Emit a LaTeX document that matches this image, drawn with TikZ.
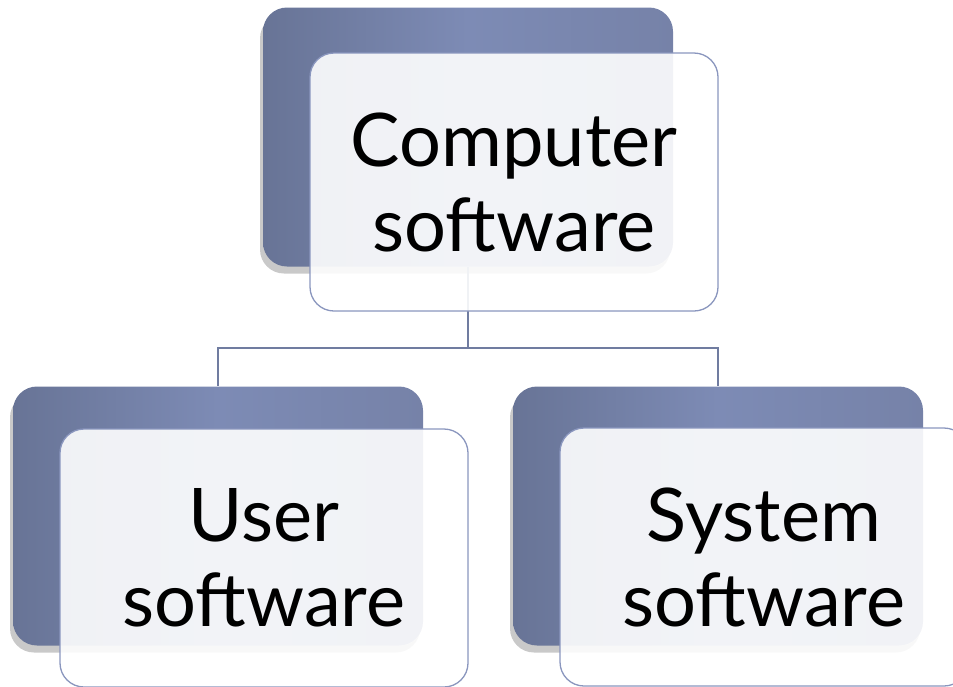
\documentclass[tikz,border=0pt]{standalone}
\usepackage{fontspec}
\setmainfont{Lato}
\usepackage{tikz}
\usetikzlibrary{shadows}
\definecolor{backdark}{RGB}{104,116,150}
\definecolor{backlight}{RGB}{125,139,181}
\definecolor{backright}{RGB}{118,130,168}
\definecolor{edgeblue}{RGB}{138,150,190}
\definecolor{linkblue}{RGB}{112,124,160}

\begin{document}
\begin{tikzpicture}[x=1pt,y=-1pt,
backbox/.style={rounded corners=24pt, inner sep=0pt, minimum width=410pt, minimum height=259pt,
  left color=backdark, right color=backright, middle color=backlight,
  drop shadow={shadow xshift=-3pt, shadow yshift=-7pt, opacity=0.3, fill=black!70}},
frontbox/.style={draw=edgeblue, line width=1.3pt, rounded corners=24pt, inner sep=0pt,
  minimum width=408pt, minimum height=258pt, fill=white, fill opacity=0.9, text opacity=1,
  align=center, font=\fontsize{74}{85}\selectfont},
link/.style={draw=linkblue, line width=1.3pt}]
\useasboundingbox (0,0) rectangle (953,686);
% back panels first, so the links and the front panels lie over them
\node [backbox] (computer back) at (468,137) {};
\node [backbox] (user back) at (218,516) {};
\node [backbox] (system back) at (718,516) {};

\draw [link] (computer back.south) -- (468,348) coordinate (split);
\draw [link] (split) -| (user back.north);
\draw [link] (split) -| (system back.north);

% the text panels
\foreach \name/\x/\y/\txt in {computer/514/182/{Computer\\software},
  user/264/558/{User\\software}, system/764/557/{System\\software}}
{
\node [frontbox] (\name) at (\x,\y) {\txt};
}
\end{tikzpicture}
\end{document}
